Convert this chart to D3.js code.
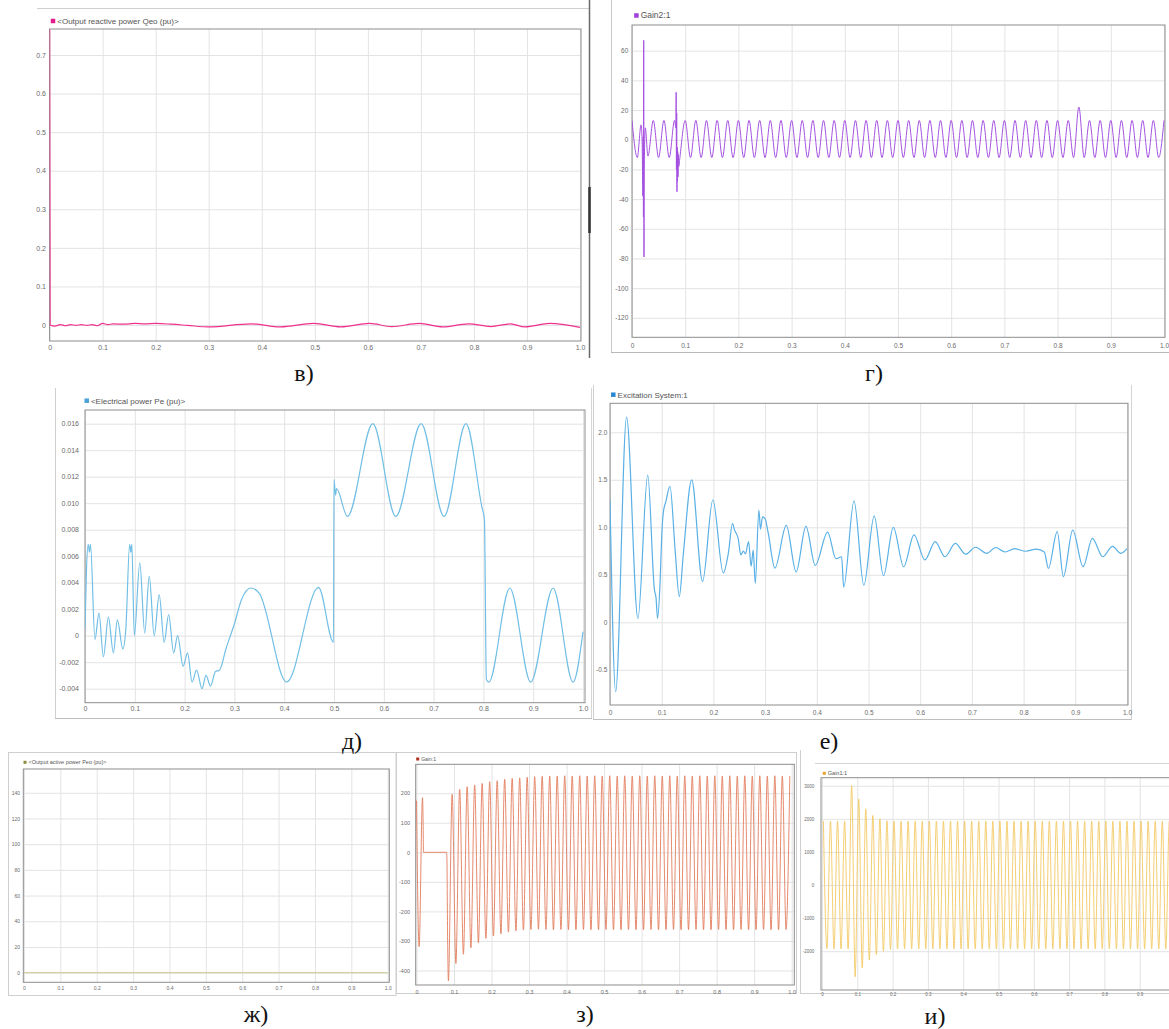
<!DOCTYPE html>
<html><head><meta charset="utf-8">
<script src="https://cdn.jsdelivr.net/npm/d3@7"></script>
<style>body{margin:0;background:#fff}svg{display:block}</style>
</head><body>
<svg id="c" width="1169" height="1029"></svg>
<script>
// ---------- shared x axis (time, s) ----------
const xTicks = [0,0.1,0.2,0.3,0.4,0.5,0.6,0.7,0.8,0.9,1.0];
const xTickLabels = ["0","0.1","0.2","0.3","0.4","0.5","0.6","0.7","0.8","0.9","1.0"];

// ---------- в) Output reactive power Qeo (pu) ----------
const qeoYTicks = [0,0.1,0.2,0.3,0.4,0.5,0.6,0.7];
const qeoYLabels = ["0","0.1","0.2","0.3","0.4","0.5","0.6","0.7"];
const qeoData = [[0,0.8],[0.001,0.0],[0.01,-0.003],[0.02,0.001],[0.03,-0.002],[0.04,0.001],[0.05,-0.001],[0.06,0.001],[0.07,-0.001],[0.08,0.001],
 [0.09,-0.002],[0.1,0.004],[0.11,0.001],[0.12,0.003],[0.14,0.002],[0.16,0.004],[0.18,0.003],[0.2,0.004],[0.23,0.002],[0.26,-0.001],
 [0.3,-0.005],[0.38,0.003],[0.435,-0.005],[0.498,0.004],[0.549,-0.005],[0.603,0.004],[0.645,-0.004],[0.697,0.004],[0.741,-0.005],[0.79,0.003],
 [0.832,-0.004],[0.869,0.003],[0.896,-0.005],[0.943,0.004],[1.0,-0.006]];

// ---------- г) Gain2:1 ----------
const gain2YTicks = [60,40,20,0,-20,-40,-60,-80,-100,-120];
const gain2YLabels = ["60","40","20","0","-20","-40","-60","-80","-100","-120"];
const gain2Lead = [[0,13],[0.01,-12],[0.017,10],[0.019,0],[0.0205,-38],[0.021,2],[0.0215,-52],[0.022,67],[0.0225,-79],[0.023,-20],
 [0.025,8],[0.03,-11],[0.04,13],[0.05,-12],[0.06,13],[0.07,-12],[0.08,13],[0.0825,8],[0.083,32],[0.0835,-20],
 [0.084,18],[0.0845,-35],[0.085,-5],[0.0855,-28],[0.086,-8],[0.0865,-25],[0.087,-10],[0.088,-18],[0.09,-12]];
const gain2Start = 0.10, gain2Step = 0.01;   // turning points sampled every half period
const gain2V = [13,-12,13,-12,13,-12,13,-12,13,-12, 13,-12,13,-12,13,-12,13,-12,13,-12,
 13,-12,13,-12,13,-12,13,-12,13,-12, 13,-12,13,-12,13,-12,13,-12,13,-12,
 13,-12,13,-12,13,-12,13,-12,13,-12, 13,-12,13,-12,13,-12,13,-12,13,-12,
 13,-12,13,-12,13,-12,13,-12,13,-12, 13,-12,13,-12,22,-12,13,-12,13,-12,
 13,-12,13,-12,13,-12,13,-12,13,-12, 13];

// ---------- д) Electrical power Pe (pu) ----------
const peYTicks = [0.016,0.014,0.012,0.010,0.008,0.006,0.004,0.002,0,-0.002,-0.004];
const peYLabels = ["0.016","0.014","0.012","0.010","0.008","0.006","0.004","0.002","0","-0.002","-0.004"];
const peData = [[0,0.0005],[0.003,0.005],[0.0065,0.0069],[0.009,0.0063],[0.011,0.0069],[0.02,-0.0003],[0.028,0.0017],[0.037,-0.0016],[0.047,0.0014],[0.057,-0.0013],
 [0.065,0.0012],[0.076,-0.001],[0.082,0.0005],[0.0897,0.0069],[0.092,0.0063],[0.094,0.0069],[0.099,0.0],[0.11,0.0055],[0.12,0.0002],[0.129,0.0045],
 [0.139,0.0],[0.149,0.0031],[0.159,-0.0005],[0.168,0.0016],[0.178,-0.0013],[0.186,0.0],[0.197,-0.0023],[0.206,-0.0013],[0.215,-0.0035],[0.224,-0.0026],
 [0.235,-0.004],[0.243,-0.003],[0.252,-0.0038],[0.262,-0.0027],[0.27,-0.0026],[0.283,-0.001],[0.3,0.0009],[0.314,0.0027],[0.333,0.0036],[0.35,0.0032],
 [0.405,-0.0035],[0.469,0.00365],[0.499,-0.0005],[0.5,0.0118],[0.503,0.0106],[0.505,0.0111],[0.527,0.009],[0.578,0.016],[0.624,0.009],[0.675,0.016],
 [0.721,0.009],[0.765,0.016],[0.797,0.0097],[0.802,0.0088],[0.806,-0.0033],[0.811,-0.0035],[0.853,0.0036],[0.895,-0.0035],[0.94,0.0036],[0.98,-0.0035],
 [1.0,0.0003]];

// ---------- е) Excitation System:1 ----------
const excYTicks = [2.0,1.5,1.0,0.5,0,-0.5];
const excYLabels = ["2.0","1.5","1.0","0.5","0","-0.5"];
const excData = [[0,1.29],[0.011,-0.73],[0.032,2.16],[0.054,0.04],[0.073,1.55],[0.086,0.34],[0.089,0.26],[0.092,0.04],[0.097,0.44],[0.1,0.9],
 [0.103,1.15],[0.108,1.27],[0.116,1.43],[0.126,0.76],[0.134,0.27],[0.142,0.73],[0.158,1.5],[0.179,0.43],[0.199,1.29],[0.219,0.52],
 [0.229,0.73],[0.237,1.04],[0.241,0.97],[0.248,0.88],[0.253,0.71],[0.258,0.75],[0.262,0.72],[0.268,0.85],[0.273,0.59],[0.277,0.76],
 [0.281,0.41],[0.288,1.18],[0.291,0.98],[0.295,1.11],[0.3,1.09],[0.306,0.94],[0.319,0.57],[0.341,1.02],[0.36,0.53],[0.379,1.01],
 [0.397,0.6],[0.421,0.95],[0.437,0.67],[0.448,0.69],[0.452,0.37],[0.472,1.277],[0.491,0.39],[0.511,1.12],[0.529,0.49],[0.548,1.0],
 [0.568,0.585],[0.588,0.92],[0.609,0.656],[0.629,0.85],[0.648,0.69],[0.668,0.83],[0.688,0.716],[0.707,0.79],[0.729,0.726],[0.746,0.787],
 [0.764,0.74],[0.783,0.775],[0.804,0.748],[0.825,0.77],[0.84,0.74],[0.848,0.568],[0.865,0.954],[0.877,0.48],[0.895,0.97],[0.915,0.585],
 [0.933,0.884],[0.953,0.69],[0.972,0.8],[0.988,0.726],[1.0,0.775]];

// ---------- ж) Output active power Peo (pu) ----------
const peoYTicks = [140,120,100,80,60,40,20,0];
const peoYLabels = ["140","120","100","80","60","40","20","0"];
const peoData = [[0,0],[0.5,0],[1.0,0]];

// ---------- з) Gain:1 ----------
const gainYTicks = [200,100,0,-100,-200,-300,-400];
const gainYLabels = ["200","100","0","-100","-200","-300","-400"];
const gainLead = [[0,175],[0.007,-319],[0.016,185],[0.018,60],[0.0185,0],[0.08,0],[0.081,-20],[0.083,-300],[0.085,-435]];
const gainStart = 0.095, gainStep = 0.01;
const gainV = [196,-376,213,-345,222,-323,228,-306,233,-291,
 239,-283,242,-276,247,-270,250,-266,252,-263,
 254,-261,256,-260,257,-261,258,-262,258,-261,
 259,-262,258,-262,259,-261,258,-262,259,-262,
 258,-261,259,-262,258,-262,259,-261,258,-262,
 259,-262,258,-261,259,-262,258,-262,259,-261,
 258,-262,259,-262,258,-261,259,-262,258,-262,
 259,-261,258,-262,259,-262,258,-261,259,-262,
 258,-262,259,-261,258,-262,259,-262,258,-261,
 258];

// ---------- и) Gain1:1 ----------
const gain1YTicks = [3000,2000,1000,0,-1000,-2000];
const gain1YLabels = ["3000","2000","1000","0","-1000","-2000"];
const gain1Start = 0.004, gain1Step = 0.01;
const gain1V = [1930,-1930,1930,-1930,1930,-1930,1930,-1930,3000,-2770,
 2600,-2500,2300,-2270,2100,-2100,2000,-2000,1940,-1950,
 1930,-1930,1930,-1930,1930,-1930,1930,-1930,1930,-1930,
 1930,-1930,1930,-1930,1930,-1930,1930,-1930,1930,-1930,
 1930,-1930,1930,-1930,1930,-1930,1930,-1930,1930,-1930,
 1930,-1930,1930,-1930,1930,-1930,1930,-1930,1930,-1930,
 1930,-1930,1930,-1930,1930,-1930,1930,-1930,1930,-1930,
 1930,-1930,1930,-1930,1930,-1930,1930,-1930,1930,-1930,
 1930,-1930,1930,-1930,1930,-1930,1930,-1930,1930,-1930,
 1930,-1930,1930,-1930,1930,-1930,1930,-1930,1930,-1930];

// ---------- panel captions ----------
const captions = ["в)","г)","д)","е)","ж)","з)","и)"];

// =====================================================
const svg = d3.select("#c");
const SVG_W = 1169;
const SANS = "Arial, 'Liberation Sans', sans-serif";

function series(lead, start, step, vals){
  const out = lead.slice();
  if (vals) vals.forEach((v,i)=> out.push([+(start + i*step).toFixed(4), v]));
  return out.sort((a,b)=>a[0]-b[0]);
}

let clipN = 0;
function panel(p){
  const g = svg.append("g");
  const x = d3.scaleLinear().domain([0,1]).range([p.x0, p.x1]);
  const y = d3.scaleLinear().domain(p.yDom).range([p.b, p.t]);
  const W = p.r - p.l, H = p.b - p.t;

  g.append("rect").attr("x",p.l).attr("y",p.t).attr("width",W).attr("height",H).attr("fill","#fff");

  const ya = d3.axisLeft(y).tickValues(p.yTicks).tickFormat((d,i)=>p.yLabels[i]).tickSizeInner(-W).tickSizeOuter(0).tickPadding(p.ypad);
  const yg = g.append("g").attr("transform",`translate(${p.l},0)`).call(ya);
  yg.select(".domain").remove();
  yg.selectAll("line").attr("stroke","#e3e3e3").attr("stroke-width",1);
  yg.selectAll("text").attr("font-size",p.fs).attr("font-family",SANS).attr("fill","#6a6a6a").attr("x",-p.ypad);

  // only ticks that lie inside the picture (the и panel is cut at the right edge)
  const xt = xTicks.filter(d => x(d) < SVG_W - 2);
  const xa = d3.axisBottom(x).tickValues(xt).tickFormat(d=>xTickLabels[xTicks.indexOf(d)]).tickSizeInner(-H).tickSizeOuter(0).tickPadding(p.xpad);
  const xg = g.append("g").attr("transform",`translate(0,${p.b})`).call(xa);
  xg.select(".domain").remove();
  xg.selectAll("line").attr("stroke","#e3e3e3").attr("stroke-width",1);
  xg.selectAll("text").attr("font-size",p.fs).attr("font-family",SANS).attr("fill","#6a6a6a").attr("y",p.xpad).attr("dy","0.71em");

  g.append("rect").attr("x",p.l).attr("y",p.t).attr("width",W).attr("height",H)
    .attr("fill","none").attr("stroke","#8d8d8d").attr("stroke-width",1);

  const id = "clip" + (clipN++);
  g.append("clipPath").attr("id",id).append("rect").attr("x",p.l).attr("y",p.t).attr("width",W).attr("height",H);
  const line = d3.line().x(d=>x(d[0])).y(d=>y(d[1])).curve(d3.curveMonotoneX);
  g.append("path").datum(p.data).attr("clip-path",`url(#${id})`)
    .attr("fill","none").attr("stroke",p.color).attr("stroke-width",p.sw).attr("stroke-linejoin","round")
    .attr("d",line);

  g.append("rect").attr("x",p.lx - p.sq/2).attr("y",p.ly - p.sq/2).attr("width",p.sq).attr("height",p.sq).attr("fill",p.legendColor);
  g.append("text").attr("x",p.lx + p.sq/2 + 2).attr("y",p.ly).attr("dy","0.35em")
    .attr("font-size",p.lfs).attr("font-family",SANS).attr("fill","#555").text(p.legend);
}

function hline(x1,x2,yy,c){ svg.append("line").attr("x1",x1).attr("x2",x2).attr("y1",yy).attr("y2",yy).attr("stroke",c).attr("stroke-width",1); }
function vline(xx,y1,y2,c,w){ svg.append("line").attr("x1",xx).attr("x2",xx).attr("y1",y1).attr("y2",y2).attr("stroke",c).attr("stroke-width",w||1); }

hline(37,589,8.5,"#cfcfcf");
vline(589.5,0,358,"#6a6a6a",1.5);
vline(589.5,187,233,"#333",2.5);
vline(611.5,0,352,"#c8c8c8");
hline(611,1169,352.5,"#b8b8b8");
vline(55.5,388,718,"#cfcfcf"); hline(55,592,718.5,"#bdbdbd"); vline(591.5,388,718,"#d5d5d5");
vline(593.5,385,720,"#cfcfcf"); vline(1131.5,385,720,"#d5d5d5"); hline(593,1131,719.5,"#bdbdbd");
svg.append("rect").attr("x",8.5).attr("y",752.5).attr("width",387.5).attr("height",243).attr("fill","none").attr("stroke","#cfcfcf");
svg.append("rect").attr("x",396.5).attr("y",752.5).attr("width",400).attr("height",241).attr("fill","none").attr("stroke","#cfcfcf");
vline(800.5,750,993,"#cfcfcf"); hline(815,1169,763.5,"#d5d5d5"); hline(800,1169,993.5,"#cfcfcf");

panel({l:49.6,r:581,t:29,b:341,x0:49.6,x1:580,yDom:[-0.0415,0.7674],yTicks:qeoYTicks,yLabels:qeoYLabels,
  fs:7,ypad:3.6,xpad:4.5,data:qeoData,color:"#f0308f",sw:1.2,
  legend:"<Output reactive power  Qeo (pu)>",legendColor:"#e0208a",lx:53,ly:21,lfs:8,sq:4.5});

panel({l:632,r:1165,t:25,b:337.3,x0:632,x1:1164,yDom:[-133.1,77.3],yTicks:gain2YTicks,yLabels:gain2YLabels,
  fs:6.5,ypad:3.7,xpad:6,data:series(gain2Lead,gain2Start,gain2Step,gain2V),color:"#a452e0",sw:1,
  legend:"Gain2:1",legendColor:"#a040d8",lx:636.4,ly:15.5,lfs:8.5,sq:4.5});

panel({l:85,r:585,t:410,b:702.7,x0:85,x1:583,yDom:[-0.005057,0.017034],yTicks:peYTicks,yLabels:peYLabels,
  fs:7,ypad:6,xpad:3,data:peData,color:"#72bfe6",sw:1.2,
  legend:"<Electrical power  Pe (pu)>",legendColor:"#4aa3d8",lx:86.7,ly:400.7,lfs:8,sq:4.5});

panel({l:610,r:1128,t:403.3,b:705,x0:610,x1:1127,yDom:[-0.8705,2.305],yTicks:excYTicks,yLabels:excYLabels,
  fs:6.5,ypad:2.7,xpad:5,data:excData,color:"#58b0e6",sw:1.2,
  legend:"Excitation System:1",legendColor:"#2a88d0",lx:613.3,ly:394.7,lfs:8,sq:4.5});

panel({l:23.3,r:389.3,t:769,b:982.3,x0:24,x1:387.7,yDom:[-7.47,158.5],yTicks:peoYTicks,yLabels:peoYLabels,
  fs:5,ypad:3.3,xpad:4,data:peoData,color:"#c8c890",sw:1,
  legend:"<Output active power  Peo (pu)>",legendColor:"#8a8a3a",lx:25,ly:762.3,lfs:5.5,sq:3});

panel({l:415.7,r:794.3,t:764.3,b:985,x0:416.5,x1:791.7,yDom:[-449,297.8],yTicks:gainYTicks,yLabels:gainYLabels,
  fs:5.5,ypad:5.7,xpad:4.7,data:series(gainLead,gainStart,gainStep,gainV),color:"#e27d5c",sw:0.9,
  legend:"Gain:1",legendColor:"#b03020",lx:417.7,ly:759,lfs:5,sq:3});

panel({l:821,r:1175,t:777.7,b:990,x0:822,x1:1175,yDom:[-3172,3242],yTicks:gain1YTicks,yLabels:gain1YLabels,
  fs:4.5,ypad:6.7,xpad:3,data:series([],gain1Start,gain1Step,gain1V),color:"#f3c862",sw:0.9,
  legend:"Gain1:1",legendColor:"#e8a030",lx:824.3,ly:773.3,lfs:5.5,sq:3});

const capPos = [[304,381],[874,381],[352,749],[829,749],[256,1022],[585,1022],[935,1024]];
svg.selectAll("text.cap").data(captions).join("text").attr("class","cap")
  .attr("x",(d,i)=>capPos[i][0]).attr("y",(d,i)=>capPos[i][1])
  .attr("text-anchor","middle").attr("font-family","'Liberation Serif', 'Times New Roman', serif")
  .attr("font-size",24).attr("fill","#111").text(d=>d);
</script>
</body></html>
